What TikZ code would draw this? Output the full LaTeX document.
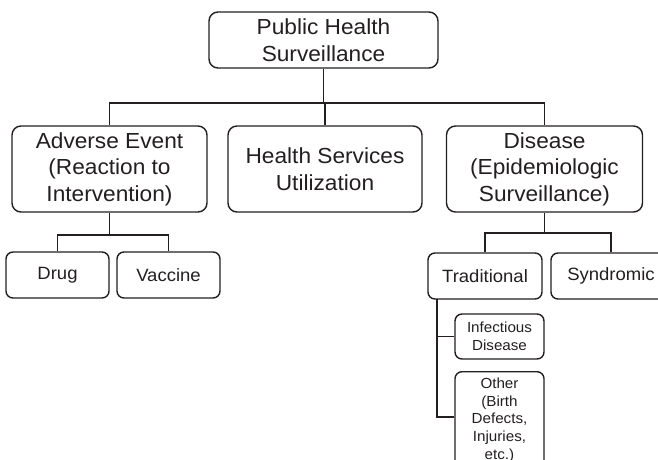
\documentclass[tikz,border=0pt]{standalone}
\usepackage{fontspec}
\setmainfont{Liberation Sans}[FakeStretch=1.04]
\definecolor{ink}{HTML}{231F20}
\begin{document}
\begin{tikzpicture}[x=1pt,y=-1pt,
  box/.style={draw=ink, text=ink, line width=1.4pt, rounded corners=9pt, align=center, inner sep=0pt},
  big/.style={box, font=\fontsize{21.8}{26.5}\selectfont},
  mid/.style={box, font=\fontsize{17.8}{22}\selectfont, rounded corners=7pt},
  small/.style={box, font=\fontsize{14.6}{17.7}\selectfont, rounded corners=7pt},
  conn/.style={draw=ink, line width=1.4pt}]
\useasboundingbox (0,0) rectangle (658,460);
\clip (0,0) rectangle (658,460);
\node[big, minimum width=229pt, minimum height=56pt] (root) at (323.5,40) {Public Health\\Surveillance};
\node[big, minimum width=195pt, minimum height=86pt] (adv) at (109.5,169) {Adverse Event\\(Reaction to\\Intervention)};
\node[big, minimum width=194pt, minimum height=86pt] (hsu) at (325,169) {Health Services\\Utilization};
\node[big, minimum width=196pt, minimum height=86pt] (dis) at (544.5,169) {Disease\\(Epidemiologic\\Surveillance)};
\node[mid, minimum width=103pt, minimum height=46pt] (drug) at (57.5,275) {Drug};
\node[mid, minimum width=103pt, minimum height=46pt] (vac) at (168.5,275) {Vaccine};
\node[mid, minimum width=114pt, minimum height=46pt] (trad) at (485,276) {Traditional};
\node[mid, minimum width=120pt, minimum height=46pt] (syn) at (611,276) {Syndromic};
\node[small, minimum width=89pt, minimum height=45pt] (inf) at (499.5,336.5) {Infectious\\Disease};
\node[small, minimum width=89pt, minimum height=97pt, anchor=north] (oth) at (499.5,371) {Other\\(Birth\\Defects,\\Injuries,\\etc.)};
\coordinate (tb) at (437,299);
\path[conn] (root.south) -- (root.south |- 0,103) coordinate (h0);
\path[conn] (adv.north) |- (dis.north |- h0) -- (dis.north);
\path[conn] (hsu.north) -- (hsu.north |- h0);
\path[conn] (adv.south) -- (adv.south |- 0,235) coordinate (h1);
\path[conn] (drug.north) |- (vac.north |- h1) -- (vac.north);
\path[conn] (dis.south) -- (dis.south |- 0,233) coordinate (h2);
\path[conn] (trad.north) |- (syn.north |- h2) -- (syn.north);
\path[conn] (tb) |- (oth.west |- 0,417);
\path[conn] (tb |- inf.west) -- (inf.west);
\end{tikzpicture}
\end{document}
